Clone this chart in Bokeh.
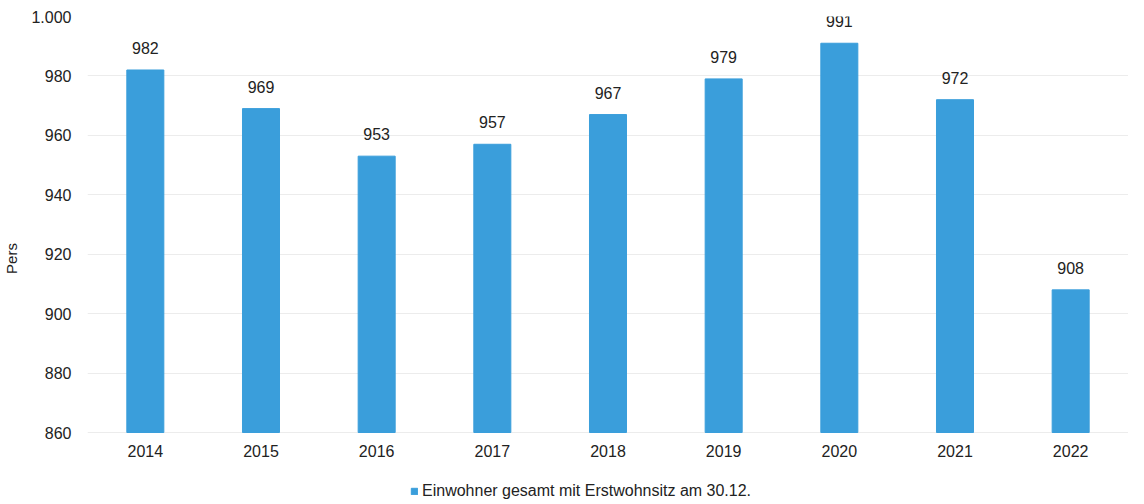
from bokeh.plotting import figure
from bokeh.models import (ColumnDataSource, Legend, LegendItem, CustomJSTickFormatter,
                          FixedTicker, Range1d)
from bokeh.core.properties import value
from bokeh.embed import file_html
from bokeh.resources import INLINE

years = ["2014", "2015", "2016", "2017", "2018", "2019", "2020", "2021", "2022"]
einwohner = [982, 969, 953, 957, 967, 979, 991, 972, 908]
y_ticks = [860, 880, 900, 920, 940, 960, 980, 1000]
series_name = "Einwohner gesamt mit Erstwohnsitz am 30.12."
y_label = "Pers"

FONT = "Liberation Sans"
BAR = "#3a9edb"
TXT = "#222222"

Y_MIN, Y_MAX = 860, 1000
H, TOP = 500, 16
AXIS_PX = 432          # screen row of the 860 baseline
units_per_px = (Y_MAX - Y_MIN) / (AXIS_PX - TOP)
range_start = Y_MIN - (H - AXIS_PX) * units_per_px   # room below the baseline for labels + legend

src = ColumnDataSource(dict(x=years, top=einwohner, lab=[str(v) for v in einwohner]))

p = figure(x_range=years, y_range=Range1d(range_start, Y_MAX), width=1128, height=H,
           output_backend="svg", toolbar_location=None,
           min_border_left=0, min_border_right=0, min_border_top=TOP, min_border_bottom=0)
p.outline_line_color = None
r = p.vbar(x="x", top="top", bottom=Y_MIN, width=0.32, source=src, color=BAR)
p.text(x="x", y="top", text="lab", source=src, y_offset=-22, text_align="center",
       text_baseline="alphabetic", text_font=value(FONT), text_font_size="16px", text_color=TXT)

p.yaxis.ticker = FixedTicker(ticks=y_ticks)
p.yaxis.formatter = CustomJSTickFormatter(code="return tick >= 1000 ? Math.floor(tick/1000) + '.' + String(tick % 1000).padStart(3,'0') : String(tick);")
p.yaxis.axis_label = y_label
p.yaxis.axis_label_text_font_style = "normal"
p.yaxis.axis_label_text_font = FONT
p.yaxis.axis_label_text_font_size = "15px"
p.yaxis.axis_label_text_color = TXT
p.yaxis.axis_label_standoff = 8
for ax in (p.xaxis, p.yaxis):
    ax.axis_line_color = None
    ax.major_tick_line_color = None
    ax.minor_tick_line_color = None
    ax.major_tick_out = 0
    ax.major_tick_in = 0
    ax.minor_tick_out = 0
    ax.major_label_text_font = FONT
    ax.major_label_text_font_size = "16px"
    ax.major_label_text_color = TXT
p.xaxis.fixed_location = Y_MIN
p.xaxis.major_label_standoff = 12
p.yaxis.major_label_standoff = 16
p.xgrid.grid_line_color = None
p.ygrid.grid_line_color = "#ececec"
p.ygrid.ticker = FixedTicker(ticks=y_ticks)

legend = Legend(items=[LegendItem(label=series_name, renderers=[r])], location=(323, 0),
                orientation="horizontal", label_text_font=FONT, label_text_font_size="16px",
                label_text_color=TXT, label_height=17,
                glyph_width=8, glyph_height=8, label_standoff=4, border_line_color=None,
                background_fill_alpha=0, padding=2, margin=0, spacing=0)
p.add_layout(legend)

open("out.html", "w").write(file_html(p, INLINE))
